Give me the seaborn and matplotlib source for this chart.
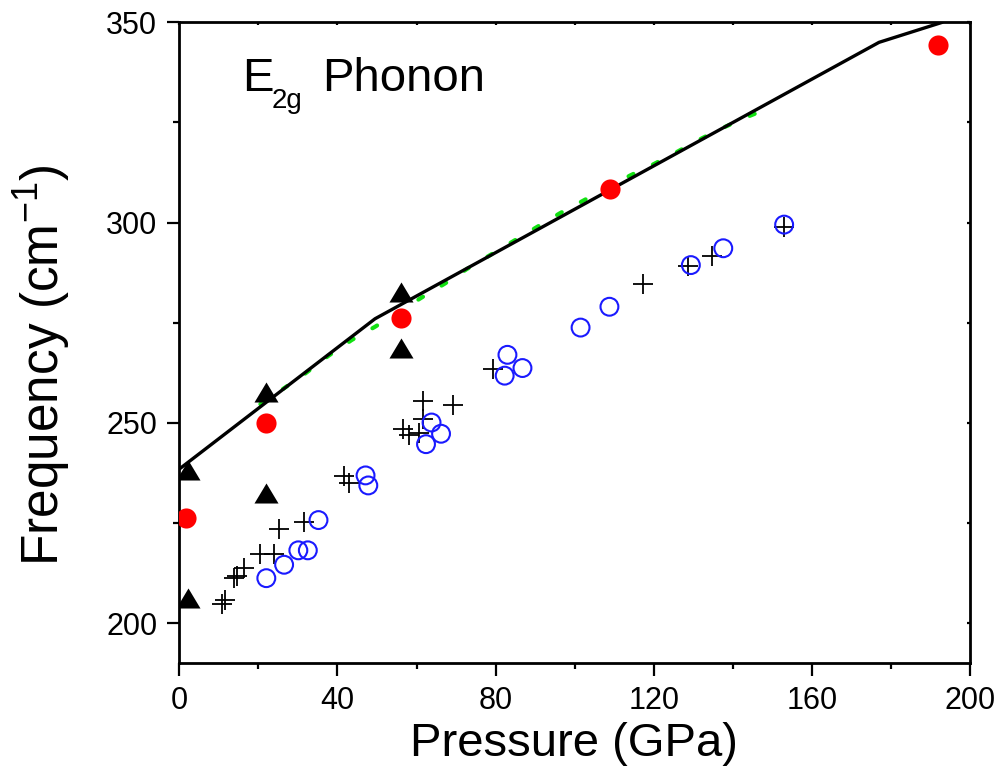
import numpy as np
import pandas as pd
import matplotlib
matplotlib.use("Agg")
import matplotlib.pyplot as plt
from matplotlib.ticker import MultipleLocator
import seaborn as sns

# ---- data ----
line_x = [0.0, 49.5, 177.0, 193.0]
line_y = [238.5, 276.0, 345.0, 350.0]

green_x = [20.5, 26.1, 31.8, 37.7, 43.6, 49.5, 61.3, 67.2, 72.7, 96.2, 102.2,
           114.0, 119.8, 125.8, 131.6, 137.6, 143.4, 149.2]
green_y = [254.7, 258.4, 262.3, 266.75, 270.7, 274.0, 281.3, 284.8, 288.4, 302.3,
           305.5, 311.75, 314.5, 317.6, 320.75, 323.7, 326.3, 328.6]

red_x = [1.7, 22.0, 56.1, 109.0, 191.9]
red_y = [226.3, 250.0, 276.3, 308.3, 344.4]

tri_x = [2.2, 2.2, 22.0, 22.0, 56.0, 56.0]
tri_y = [238.2, 206.2, 257.6, 232.6, 282.6, 268.7]

blue_x = [22.0, 26.5, 30.1, 32.5, 35.2, 47.1, 47.8, 62.4, 63.8, 66.2, 82.3, 83.0,
          86.8, 101.5, 108.8, 129.4, 137.6, 153.0]
blue_y = [211.25, 214.6, 218.2, 218.2, 225.75, 236.9, 234.4, 244.7, 250.1, 247.3,
          261.8, 267.0, 263.7, 273.8, 279.0, 289.4, 293.6, 299.5]

plus_x = [10.7, 11.6, 13.9, 14.5, 16.3, 20.3, 24.0, 25.2, 31.6, 41.6, 42.8, 56.5,
          58.2, 60.7, 61.7, 61.7, 69.3, 79.4, 117.2, 128.7, 134.8, 153.0]
plus_y = [204.7, 205.7, 211.3, 211.9, 213.7, 217.3, 217.3, 223.4, 225.25, 236.75,
          235.1, 248.5, 247.0, 247.5, 251.1, 255.5, 254.5, 263.4, 284.8, 289.25,
          291.75, 299.0]

x_ticks = [0, 40, 80, 120, 160, 200]
y_ticks = [200, 250, 300, 350]

# ---- style ----
sns.set_style("ticks")
plt.rcParams['font.family'] = ['Liberation Sans', 'DejaVu Sans']
plt.rcParams['mathtext.fontset'] = 'custom'
plt.rcParams['mathtext.rm'] = 'Liberation Sans'
plt.rcParams['mathtext.default'] = 'regular'
for k in ['text.color', 'axes.labelcolor', 'xtick.color', 'ytick.color',
          'axes.edgecolor']:
    plt.rcParams[k] = 'black'

fig = plt.figure(figsize=(10.02, 7.72), dpi=100)
ax = fig.add_axes([0.179, 0.1408, 0.968 - 0.179, 0.9711 - 0.1408])

sns.lineplot(x=green_x, y=green_y, ax=ax, color='#11e011', linewidth=3.0,
             linestyle=(0, (1.3, 5.2)), sort=False, estimator=None,
             solid_capstyle='round', dash_capstyle='round', zorder=2)
sns.lineplot(x=line_x, y=line_y, ax=ax, color='black', linewidth=2.4,
             sort=False, estimator=None, zorder=3)

sns.scatterplot(x=plus_x, y=plus_y, ax=ax, marker='+', s=190, color='black',
                linewidth=1.3, zorder=4)
sns.scatterplot(x=blue_x, y=blue_y, ax=ax, marker='o', s=165, facecolor='none',
                edgecolor='#1a1aff', linewidth=1.5, zorder=5)
tri_marker = [(-1.2, -1.0), (1.2, -1.0), (0.0, 1.0)]
sns.scatterplot(x=tri_x, y=tri_y, ax=ax, marker=tri_marker, s=300, color='black',
                linewidth=0, zorder=6)
sns.scatterplot(x=red_x, y=red_y, ax=ax, marker='o', s=210, color='#ff0000',
                linewidth=0, zorder=7)

ax.set_xlim(0, 200)
ax.set_ylim(190, 350)
ax.set_xticks(x_ticks)
ax.set_yticks(y_ticks)
ax.xaxis.set_minor_locator(MultipleLocator(20))
ax.yaxis.set_minor_locator(MultipleLocator(25))

for sp in ax.spines.values():
    sp.set_linewidth(2.0)
    sp.set_visible(True)
    sp.set_color('black')

ax.tick_params(axis='both', which='major', direction='out', length=9, width=1.6,
               labelsize=22, pad=7, colors='black')
ax.tick_params(axis='both', which='minor', direction='out', length=4.5, width=1.6,
               colors='black')
ax.tick_params(top=True, right=True, which='both')
# short inward marks on top and right
for t in ax.xaxis.get_major_ticks() + ax.xaxis.get_minor_ticks():
    t.tick2line.set_markersize(2.5)
    t.tick2line.set_marker(3)  # TICKDOWN
for t in ax.yaxis.get_major_ticks() + ax.yaxis.get_minor_ticks():
    t.tick2line.set_markersize(2.5)
    t.tick2line.set_marker(0)  # TICKLEFT

ax.set_xlabel('Pressure (GPa)', fontsize=34, color='black')
ax.set_ylabel('Frequency (cm$^{-1}$)', fontsize=37, color='black')
ax.xaxis.set_label_coords(0.499, -0.092)
ax.yaxis.set_label_coords(-0.134, 0.465)

ax.text(0.0793, 0.893, 'E', transform=ax.transAxes, fontsize=34,
        va='baseline', ha='left', color='black')
ax.text(0.1168, 0.866, '2g', transform=ax.transAxes, fontsize=20,
        va='baseline', ha='left', color='black')
ax.text(0.180, 0.893, 'Phonon', transform=ax.transAxes, fontsize=34,
        va='baseline', ha='left', color='black')

fig.savefig('out.png', dpi=100)
